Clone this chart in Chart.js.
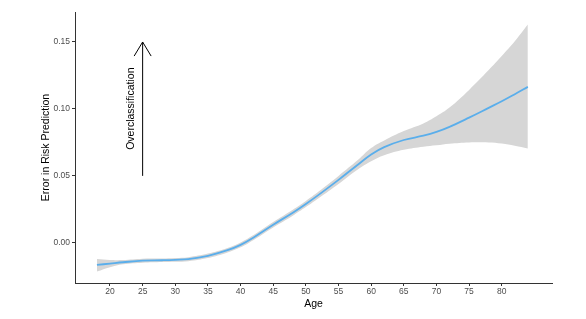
<!DOCTYPE html>
<html>
<head>
<meta charset="utf-8">
<script src="https://cdn.jsdelivr.net/npm/chart.js@4/dist/chart.umd.min.js"></script>
<style>
  html, body { margin: 0; padding: 0; background: #fff; }
  #wrap { width: 586px; height: 319px; }
</style>
</head>
<body>
<div id="wrap"><canvas id="errorChart" width="586" height="319"></canvas></div>
<script>
const AGES = [18, 20, 22, 25, 28, 30, 32, 35, 38, 40, 42, 45, 48, 50, 52, 55, 58, 60, 62, 65, 68, 70, 72, 75, 78, 80, 82, 84];
const FIT = [-0.0165, -0.0155, -0.0145, -0.0133, -0.013, -0.0127, -0.0122, -0.0097, -0.0055, -0.0015, 0.004, 0.0135, 0.0225, 0.029, 0.036, 0.047, 0.0585, 0.066, 0.0715, 0.0768, 0.08, 0.0828, 0.0866, 0.0935, 0.1008, 0.1057, 0.111, 0.1165];
const UPPER = [-0.012, -0.0128, -0.0128, -0.0118, -0.0117, -0.0113, -0.0107, -0.008, -0.0038, 0.0003, 0.0058, 0.0155, 0.0247, 0.0313, 0.0385, 0.05, 0.062, 0.0708, 0.0765, 0.0835, 0.0892, 0.0945, 0.101, 0.1142, 0.129, 0.1395, 0.1505, 0.163];
const LOWER = [-0.0215, -0.0182, -0.016, -0.0148, -0.0143, -0.0141, -0.0137, -0.0114, -0.0072, -0.0033, 0.0022, 0.0115, 0.0203, 0.0267, 0.0335, 0.044, 0.055, 0.061, 0.0655, 0.0695, 0.0718, 0.0728, 0.074, 0.075, 0.075, 0.0742, 0.0726, 0.0705];

const X_TICKS = [20, 25, 30, 35, 40, 45, 50, 55, 60, 65, 70, 75, 80];
const Y_TICKS = [0, 0.05, 0.1, 0.15];

// annotation: arrow at age 25 from 0.05 up to 0.15
const ARROW_X = [25, 25];
const ARROW_Y = [0.05, 0.15];
const HEAD_X = [23.7, 25, 26.3];
const HEAD_Y = [0.1395, 0.15, 0.1395];
const LABEL_TEXT = "Overclassification";
const LABEL_AT = [23.67, 0.1002];

const FONT = "'Liberation Sans', Arial, sans-serif";
const LINE_BLUE = "#5aaeeb";
const BAND_GREY = "#d6d6d6";

const pts = (xs, ys) => xs.map((x, i) => ({ x, y: ys[i] }));

const labelPlugin = {
  id: "arrowLabel",
  afterDatasetsDraw(chart) {
    const { ctx, scales } = chart;
    const px = scales.x.getPixelForValue(LABEL_AT[0]);
    const py = scales.y.getPixelForValue(LABEL_AT[1]);
    ctx.save();
    ctx.translate(px, py);
    ctx.rotate(-Math.PI / 2);
    ctx.font = "10.5px " + FONT;
    ctx.fillStyle = "#000";
    ctx.textAlign = "center";
    ctx.textBaseline = "alphabetic";
    ctx.fillText(LABEL_TEXT, 0, 0);
    ctx.restore();
  },
};

new Chart(document.getElementById("errorChart"), {
  type: "line",
  data: {
    datasets: [
      {
        data: pts(AGES, UPPER),
        borderWidth: 0,
        pointRadius: 0,
        backgroundColor: BAND_GREY,
        fill: "+1",
        tension: 0.4,
        order: 3,
      },
      {
        data: pts(AGES, LOWER),
        borderWidth: 0,
        pointRadius: 0,
        fill: false,
        tension: 0.4,
        order: 3,
      },
      {
        data: pts(AGES, FIT),
        borderColor: LINE_BLUE,
        borderWidth: 1.8,
        pointRadius: 0,
        fill: false,
        tension: 0.4,
        order: 0,
      },
      {
        data: pts(ARROW_X, ARROW_Y),
        borderColor: "#000",
        borderWidth: 1,
        pointRadius: 0,
        fill: false,
        order: 1,
      },
      {
        data: pts(HEAD_X, HEAD_Y),
        borderColor: "#000",
        borderWidth: 1,
        pointRadius: 0,
        fill: false,
        order: 1,
      },
    ],
  },
  options: {
    responsive: false,
    animation: false,
    layout: { padding: { left: 0, right: 34, top: 12, bottom: 0 } },
    plugins: {
      legend: { display: false },
      tooltip: { enabled: false },
    },
    scales: {
      x: {
        type: "linear",
        min: 14.64,
        max: 87.7,
        afterBuildTicks: (s) => { s.ticks = X_TICKS.map((v) => ({ value: v })); },
        afterFit: (s) => { s.height = 36; },
        border: { display: true, color: "#333", width: 1 },
        grid: { display: true, drawOnChartArea: false, drawTicks: true, tickLength: 3, color: "#333" },
        ticks: { color: "#4d4d4d", font: { family: FONT, size: 8.5 }, padding: 1, maxRotation: 0 },
        title: { display: true, text: "Age", color: "#000", font: { family: FONT, size: 10.5 }, padding: { top: 0, bottom: 8.5 } },
      },
      y: {
        type: "linear",
        min: -0.03,
        max: 0.1724,
        afterBuildTicks: (s) => { s.ticks = Y_TICKS.map((v) => ({ value: v })); },
        afterFit: (s) => { s.width = 75; },
        border: { display: true, color: "#333", width: 1 },
        grid: { display: true, drawOnChartArea: false, drawTicks: true, tickLength: 3, color: "#333" },
        ticks: { color: "#4d4d4d", font: { family: FONT, size: 8.5 }, padding: 2, callback: (v) => v.toFixed(2) },
        title: { display: true, text: "Error in Risk Prediction", color: "#000", font: { family: FONT, size: 10.5 }, padding: { top: 40, bottom: 0 } },
      },
    },
  },
  plugins: [labelPlugin],
});
</script>
</body>
</html>
